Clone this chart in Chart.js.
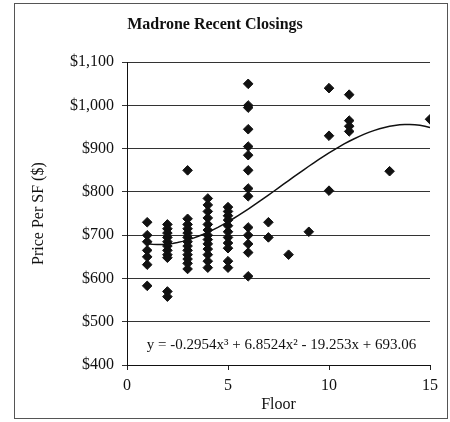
<!DOCTYPE html>
<html>
<head>
<meta charset="utf-8">
<script src="https://cdn.jsdelivr.net/npm/chart.js@4"></script>
<style>
  body { margin: 0; background: #fff; }
  #wrap { position: relative; width: 450px; height: 422px; }
  #frame { position: absolute; left: 14px; top: 3px; width: 432px; height: 414px; border: 1px solid #555; }
  canvas { position: absolute; left: 0; top: 0; }
</style>
</head>
<body>
<div id="wrap">
  <div id="frame"></div>
  <canvas id="closingsChart" width="450" height="422"></canvas>
</div>
<script>
// Madrone recent closings - price per SF by floor

const saleFloors = [
    1, 1, 1, 1, 1, 1, 1,
    2, 2, 2, 2, 2, 2, 2, 2, 2, 2, 2,
    3, 3, 3, 3, 3, 3, 3, 3, 3, 3, 3, 3, 3,
    4, 4, 4, 4, 4, 4, 4, 4, 4, 4, 4, 4, 4,
    5, 5, 5, 5, 5, 5, 5, 5, 5, 5, 5,
    6, 6, 6, 6, 6, 6, 6, 6, 6, 6, 6, 6, 6, 6,
    7, 7,
    8,
    9,
    10, 10, 10,
    11, 11, 11, 11,
    13,
    15
];
const salePrices = [
    730, 700, 685, 665, 650, 632, 583,
    725, 715, 705, 695, 685, 675, 665, 655, 648, 570, 558,
    850, 738, 725, 715, 705, 695, 685, 675, 665, 655, 645, 635, 622,
    785, 770, 755, 740, 725, 712, 700, 690, 680, 668, 655, 640, 625,
    765, 755, 745, 735, 722, 708, 695, 682, 670, 640, 625,
    1050, 1000, 995, 945, 905, 885, 850, 808, 790, 718, 700, 680, 660, 605,
    730, 695,
    655,
    708,
    1040, 930, 803,
    1025, 965, 952, 940,
    848,
    968
];

// trendline coefficients: constant, x, x^2, x^3
const trendCoefs = [693.06, -19.253, 6.8524, -0.2954];
const trendFrom = 1;
const trendTo = 15;
const equationText = 'y = -0.2954x³ + 6.8524x² - 19.253x + 693.06';

const xTicks = [0, 5, 10, 15];
const yTicks = [400, 500, 600, 700, 800, 900, 1000, 1100];

const serif = 'Liberation Serif';

const trendPoints = [];
for (let x = trendFrom; x <= trendTo + 1e-9; x += 0.25) {
    const y = trendCoefs[0] + trendCoefs[1] * x + trendCoefs[2] * x * x + trendCoefs[3] * x * x * x;
    trendPoints.push({ x: x, y: y });
}

const equationLabel = {
    id: 'equationLabel',
    afterDatasetsDraw(chart) {
        const { ctx, scales } = chart;
        ctx.save();
        ctx.font = '15px "' + serif + '"';
        ctx.fillStyle = '#111';
        ctx.textAlign = 'center';
        ctx.textBaseline = 'middle';
        ctx.fillText(equationText, scales.x.getPixelForValue(7.65), scales.y.getPixelForValue(445));
        ctx.restore();
    }
};

const closingsCtx = document.getElementById('closingsChart').getContext('2d');
const closingsChart = new Chart(closingsCtx, {
    type: 'scatter',
    data: {
        datasets: [{
            label: 'Closings',
            data: saleFloors.map((f, i) => ({ x: f, y: salePrices[i] })),
            pointStyle: 'rectRot',
            pointRadius: 4.8,
            backgroundColor: '#111',
            borderColor: '#111',
            borderWidth: 1
        }, {
            type: 'line',
            label: 'Trend',
            data: trendPoints,
            borderColor: '#111',
            borderWidth: 1.5,
            pointRadius: 0,
            fill: false,
            tension: 0
        }]
    },
    options: {
        responsive: false,
        animation: false,
        layout: { padding: { left: 0, right: 20, top: 0, bottom: 0 } },
        plugins: {
            legend: { display: false },
            tooltip: { enabled: false },
            title: {
                display: true,
                text: 'Madrone Recent Closings',
                color: '#111',
                font: { family: serif, size: 16, weight: 'bold' },
                padding: { top: 15, bottom: 28 }
            }
        },
        scales: {
            x: {
                type: 'linear',
                min: 0,
                max: 15,
                afterBuildTicks: s => { s.ticks = xTicks.map(v => ({ value: v })); },
                afterFit: s => { s.height = 57; },
                ticks: { color: '#111', font: { family: serif, size: 16 }, padding: 6 },
                grid: { drawOnChartArea: false, tickLength: 5, color: '#222' },
                border: { color: '#111', width: 1 },
                title: {
                    display: true,
                    text: 'Floor',
                    color: '#111',
                    font: { family: serif, size: 16 },
                    padding: { top: 0, bottom: 8 }
                }
            },
            y: {
                type: 'linear',
                min: 400,
                max: 1100,
                afterBuildTicks: s => { s.ticks = yTicks.map(v => ({ value: v })); },
                afterFit: s => { s.width = 127; },
                ticks: {
                    color: '#111',
                    font: { family: serif, size: 16 },
                    padding: 8,
                    callback: v => '$' + v.toLocaleString('en-US')
                },
                grid: { color: '#333', lineWidth: 1, tickLength: 5 },
                border: { color: '#111', width: 1 },
                title: {
                    display: true,
                    text: 'Price Per SF ($)',
                    color: '#111',
                    font: { family: serif, size: 16 },
                    padding: { top: 29, bottom: 0 }
                }
            }
        }
    },
    plugins: [equationLabel]
});
</script>
</body>
</html>
